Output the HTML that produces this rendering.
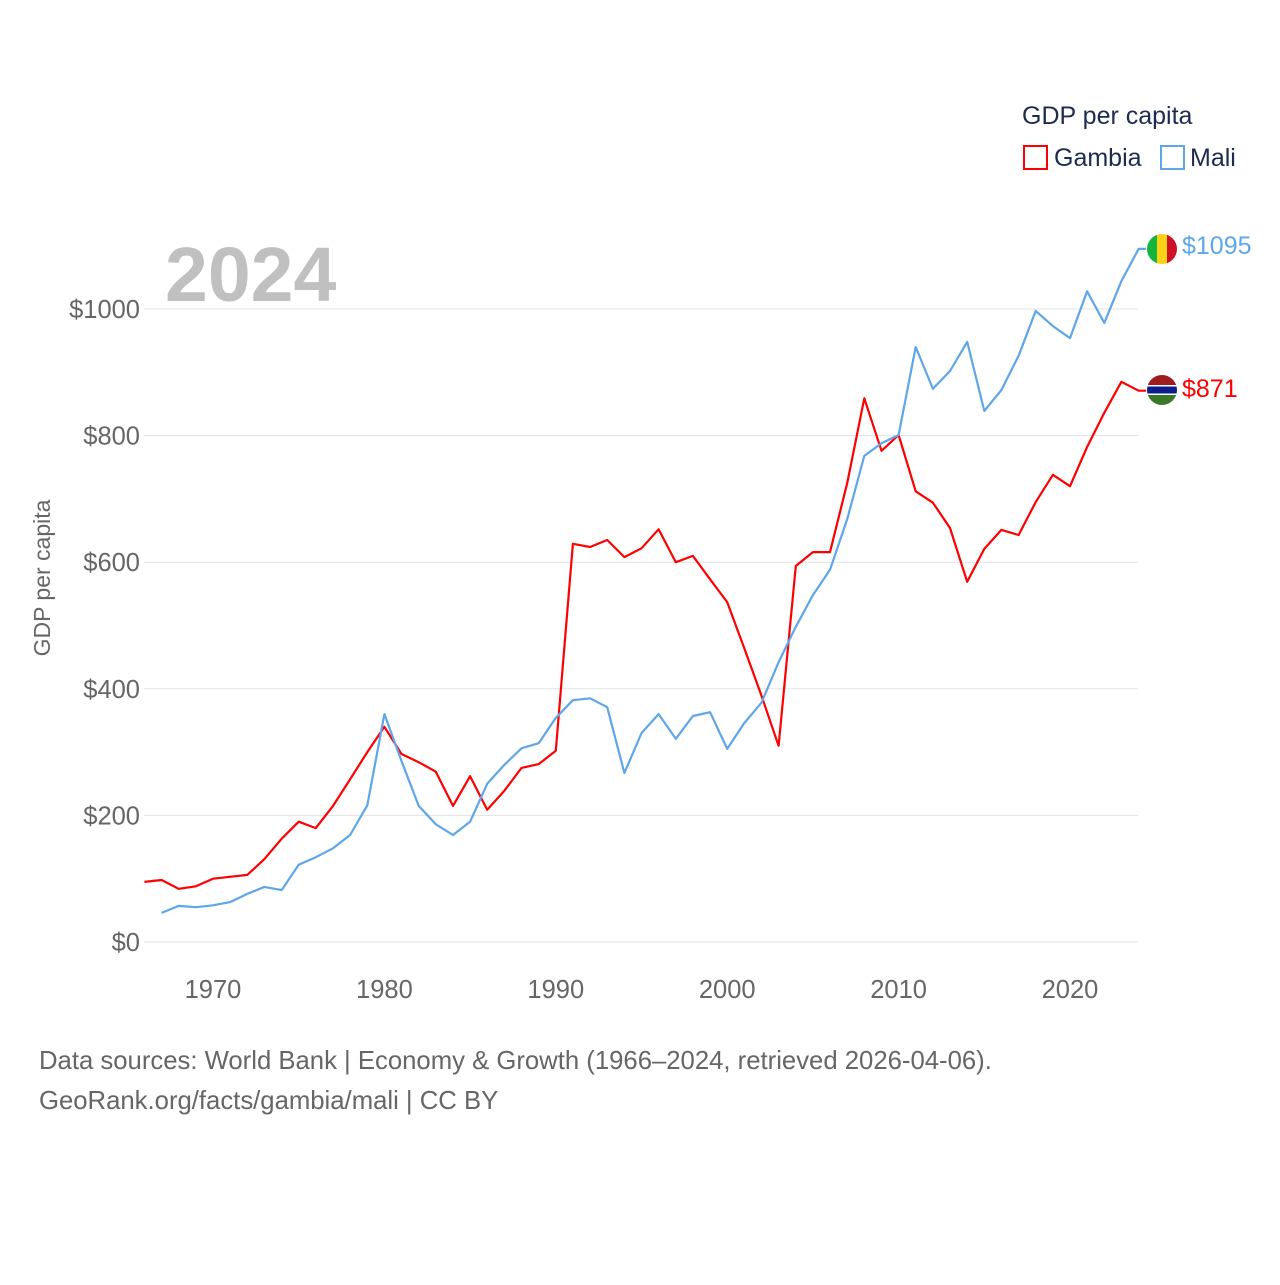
<!DOCTYPE html>
<html><head><meta charset="utf-8">
<style>
html,body{margin:0;padding:0;background:#fff;}
svg text{font-family:"Liberation Sans",sans-serif;}
</style></head>
<body>
<svg id="chart" width="1280" height="1280" viewBox="0 0 1280 1280" xmlns="http://www.w3.org/2000/svg">
<defs>
<clipPath id="mclip"><circle cx="1162" cy="249" r="15"/></clipPath>
<clipPath id="gclip"><circle cx="1162" cy="390" r="15"/></clipPath>
</defs>
<g id="grid"></g>
<g id="yticks"></g>
<g id="xticks"></g>
<text x="165" y="301" font-size="77" font-weight="bold" fill="#c0c0c0">2024</text>
<text transform="translate(50,578) rotate(-90)" text-anchor="middle" font-size="23" fill="#666">GDP per capita</text>
<g id="lines"></g>
<g clip-path="url(#mclip)">
<rect x="1147" y="234" width="10" height="30" fill="#14b53a"/>
<rect x="1157" y="234" width="10" height="30" fill="#fcd116"/>
<rect x="1167" y="234" width="10" height="30" fill="#ce1126"/>
</g>
<g clip-path="url(#gclip)">
<rect x="1147" y="375" width="30" height="30" fill="#fff"/>
<rect x="1147" y="375" width="30" height="10" fill="#9e1b1e"/>
<rect x="1147" y="386.5" width="30" height="7" fill="#0c1c8c"/>
<rect x="1147" y="395" width="30" height="10" fill="#3a7728"/>
</g>
<text id="maliLbl" x="1182" y="254" font-size="25" fill="#5ea6ea"></text>
<text id="gamLbl" x="1182" y="397" font-size="25" fill="#f00"></text>
<g>
<text x="1022" y="124" font-size="25" fill="#1d2b4f">GDP per capita</text>
<rect x="1024" y="146" width="23" height="23" fill="none" stroke="#f00" stroke-width="2"/>
<text x="1054" y="166" font-size="25" fill="#1d2b4f">Gambia</text>
<rect x="1161" y="146" width="23" height="23" fill="none" stroke="#5ea6ea" stroke-width="2"/>
<text x="1190" y="166" font-size="25" fill="#1d2b4f">Mali</text>
</g>
<text x="39" y="1069" font-size="25.7" fill="#666">Data sources: World Bank | Economy &amp; Growth (1966–2024, retrieved 2026-04-06).</text>
<text x="39" y="1109" font-size="25.7" fill="#666">GeoRank.org/facts/gambia/mali | CC BY</text>
</svg>
<script>
const years = [];
for (let y = 1966; y <= 2024; y++) years.push(y);
const gambia = [95,98,84,88,100,103,106,131,163,190,180,215,257,300,340,297,284,269,215,262,209,239,275,281,302,629,624,635,608,622,652,600,610,573,537,464,389,310,594,616,616,725,859,776,801,712,694,654,569,621,651,643,695,738,720,782,836,885,871];
const mali = [null,46,57,55,58,63,76,87,82,122,134,148,169,216,360,286,215,186,169,190,250,280,306,314,354,382,385,371,267,330,360,321,357,363,305,346,378,442,498,548,588,668,768,788,801,940,874,902,948,839,872,926,997,973,954,1028,978,1044,1095];
const yTicks = [0,200,400,600,800,1000];
const xTicks = [1970,1980,1990,2000,2010,2020];

const X = v => 213 + (v - 1970) * 17.14;
const Y = v => 942 - v * 0.633;
const NS = "http://www.w3.org/2000/svg";
function mk(tag, attrs, parent) {
  const e = document.createElementNS(NS, tag);
  for (const k in attrs) e.setAttribute(k, attrs[k]);
  parent.appendChild(e);
  return e;
}
const grid = document.getElementById('grid');
const yt = document.getElementById('yticks');
yTicks.forEach(t => {
  const l = mk('line', {x1: 144, x2: 1138, y1: Y(t), y2: Y(t), stroke: '#e3e3e3', 'stroke-width': 1}, grid);
  
  
  const tx = mk('text', {x: 140, y: Y(t) + 9, 'text-anchor': 'end', 'font-size': 25.5, fill: '#666'}, yt);
  tx.textContent = '$' + t;
  
  
});
const xt = document.getElementById('xticks');
xTicks.forEach(t => {
  const tx = mk('text', {x: X(t), y: 998, 'text-anchor': 'middle', 'font-size': 25.5, fill: '#666'}, xt);
  tx.textContent = t;
  
  
});
function path(vals, color, name) {
  let d = '', last = null;
  vals.forEach((v, i) => {
    if (v == null) return;
    d += (d ? 'L' : 'M') + X(years[i]).toFixed(1) + ',' + Y(v).toFixed(1);
    last = v;
  });
  d += 'L1146,' + Y(last).toFixed(1);
  const p = mk('path', {d: d, fill: 'none', stroke: color, 'stroke-width': 2.2, 'stroke-linejoin': 'round'}, document.getElementById('lines'));
  
  
}
path(gambia, '#ff0000', 'gambia-line');
path(mali, '#5ea6ea', 'mali-line');
const gl = gambia[gambia.length - 1], ml = mali[mali.length - 1];
document.getElementById('gamLbl').textContent = '$' + gl;
document.getElementById('maliLbl').textContent = '$' + ml;
</script>
</body></html>
